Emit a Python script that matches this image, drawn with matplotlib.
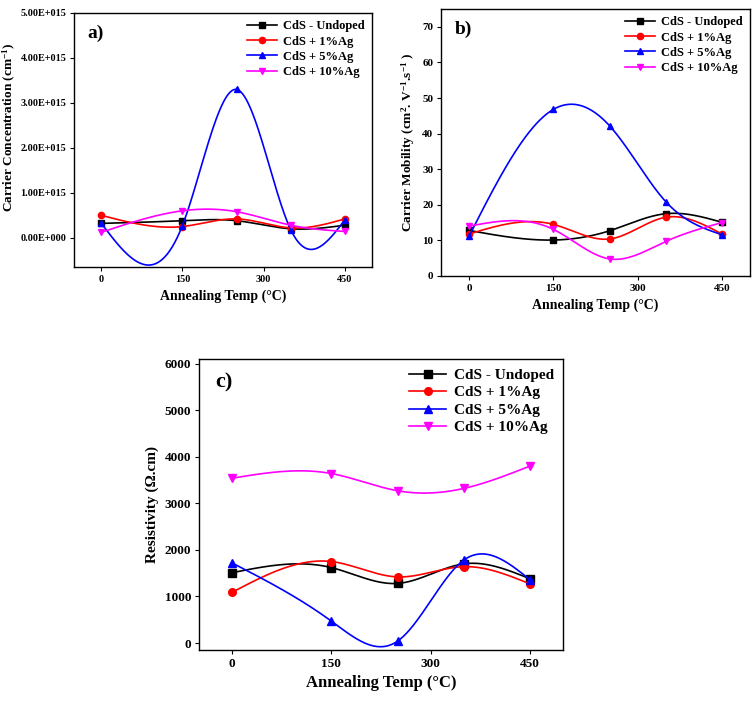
import numpy as np
import matplotlib
matplotlib.use("Agg")
import matplotlib.pyplot as plt

plt.rcParams["font.family"] = ["Liberation Serif", "DejaVu Serif"]
plt.rcParams["font.weight"] = "bold"
plt.rcParams["mathtext.fontset"] = "custom"
plt.rcParams["mathtext.rm"] = "Liberation Serif:bold"
plt.rcParams["mathtext.bf"] = "Liberation Serif:bold"
plt.rcParams["mathtext.it"] = "Liberation Serif:bold"
plt.rcParams["mathtext.default"] = "bf"

# ---- data -----------------------------------------------------------
temps = [0, 150, 250, 350, 450]
labels = ["CdS - Undoped", "CdS + 1%Ag", "CdS + 5%Ag", "CdS + 10%Ag"]
colors = ["black", "#ff0000", "#0000ff", "#ff00ff"]
markers = ["s", "o", "^", "v"]

# carrier concentration, units of 1e15 cm^-1
conc_undoped = [0.32, 0.38, 0.38, 0.20, 0.28]
conc_1ag = [0.50, 0.25, 0.42, 0.22, 0.42]
conc_5ag = [0.33, 0.27, 3.30, 0.18, 0.40]
conc_10ag = [0.12, 0.60, 0.58, 0.28, 0.14]

# carrier mobility
mob_undoped = [12.8, 10.1, 12.7, 17.5, 15.1]
mob_1ag = [11.8, 14.5, 10.4, 16.5, 11.8]
mob_5ag = [11.2, 46.8, 42.2, 20.9, 11.6]
mob_10ag = [14.0, 13.1, 4.8, 9.7, 15.0]

# resistivity
res_undoped = [1510, 1620, 1280, 1700, 1380]
res_1ag = [1090, 1750, 1420, 1640, 1270]
res_5ag = [1720, 470, 40, 1780, 1360]
res_10ag = [3540, 3640, 3270, 3320, 3800]


def natural_spline(x, y, n=300):
    # plain natural cubic spline, like Origin's "spline" connector
    x = np.asarray(x, float); y = np.asarray(y, float)
    k = len(x); h = np.diff(x)
    A = np.zeros((k, k)); b = np.zeros(k)
    A[0, 0] = A[-1, -1] = 1.0
    for i in range(1, k - 1):
        A[i, i - 1] = h[i - 1]; A[i, i] = 2 * (h[i - 1] + h[i]); A[i, i + 1] = h[i]
        b[i] = 6 * ((y[i + 1] - y[i]) / h[i] - (y[i] - y[i - 1]) / h[i - 1])
    M = np.linalg.solve(A, b)
    xs = np.linspace(x[0], x[-1], n)
    j = np.clip(np.searchsorted(x, xs) - 1, 0, k - 2)
    t0 = x[j + 1] - xs; t1 = xs - x[j]; hj = h[j]
    ys = (M[j] * t0 ** 3 + M[j + 1] * t1 ** 3) / (6 * hj) \
        + (y[j] / hj - M[j] * hj / 6) * t0 + (y[j + 1] / hj - M[j + 1] * hj / 6) * t1
    return xs, ys


def panel(ax, series, tag, ylabel, fs_tick, fs_xlab, fs_ylab, fs_leg, fs_tag, ms):
    for vals, lab, c, m in zip(series, labels, colors, markers):
        xs, ys = natural_spline(temps, vals)
        ax.plot(xs, ys, color=c, lw=1.2)
        ax.plot(temps, vals, ls="none", marker=m, color=c, ms=ms)
        ax.plot([], [], color=c, lw=1.2, marker=m, ms=ms, label=lab)
    ax.set_xlim(-50, 500)
    ax.set_xticks([0, 150, 300, 450])
    ax.tick_params(direction="out", labelsize=fs_tick, top=False, right=False,
                   length=3, pad=2.5)
    for t in ax.get_xticklabels() + ax.get_yticklabels():
        t.set_fontweight("bold")
    ax.set_xlabel("Annealing Temp (°C)", fontsize=fs_xlab, fontweight="bold")
    ax.set_ylabel(ylabel, fontsize=fs_ylab, fontweight="bold")
    ax.text(0.045, 0.955, tag, transform=ax.transAxes, fontsize=fs_tag,
            fontweight="bold", va="top", ha="left")
    ax.legend(loc="upper right", frameon=False, handlelength=2.4,
              borderaxespad=0.2, labelspacing=0.25, handletextpad=0.5,
              prop={"weight": "bold", "size": fs_leg})
    for s in ax.spines.values():
        s.set_linewidth(1.0)


fig = plt.figure(figsize=(7.56, 7.01), dpi=100)
W, H = 756, 701

ax_a = fig.add_axes([74 / W, 1 - 267 / H, (372 - 74) / W, (267 - 13) / H])
panel(ax_a, [conc_undoped, conc_1ag, conc_5ag, conc_10ag], "a)",
      "Carrier Concentration (cm$^{-1}$)", 7.3, 10, 9.5, 9, 14, 4.5)
ax_a.set_ylim(-0.65, 5.0)
ax_a.set_yticks([0, 1, 2, 3, 4, 5])
ax_a.set_yticklabels(["0.00E+000", "1.00E+015", "2.00E+015", "3.00E+015",
                      "4.00E+015", "5.00E+015"], fontweight="bold")
ax_a.yaxis.set_label_coords((18 - 74) / 298, 0.55)

ax_b = fig.add_axes([441 / W, 1 - 276 / H, (750 - 441) / W, (276 - 9) / H])
panel(ax_b, [mob_undoped, mob_1ag, mob_5ag, mob_10ag], "b)",
      "Carrier Mobility (cm$^{2}$. V$^{-1}$.s$^{-1}$ )", 8, 10, 9.5, 9, 14, 4.5)
ax_b.set_ylim(0, 75)
ax_b.set_yticks(range(0, 71, 10))

ax_c = fig.add_axes([199 / W, 1 - 650 / H, (563 - 199) / W, (650 - 359) / H])
panel(ax_c, [res_undoped, res_1ag, res_5ag, res_10ag], "c)",
      "Resistivity (Ω.cm)", 9.5, 12, 11, 11, 16, 5.5)
ax_c.set_ylim(-150, 6100)
ax_c.set_yticks(range(0, 6001, 1000))

fig.savefig("out.png", dpi=100)
